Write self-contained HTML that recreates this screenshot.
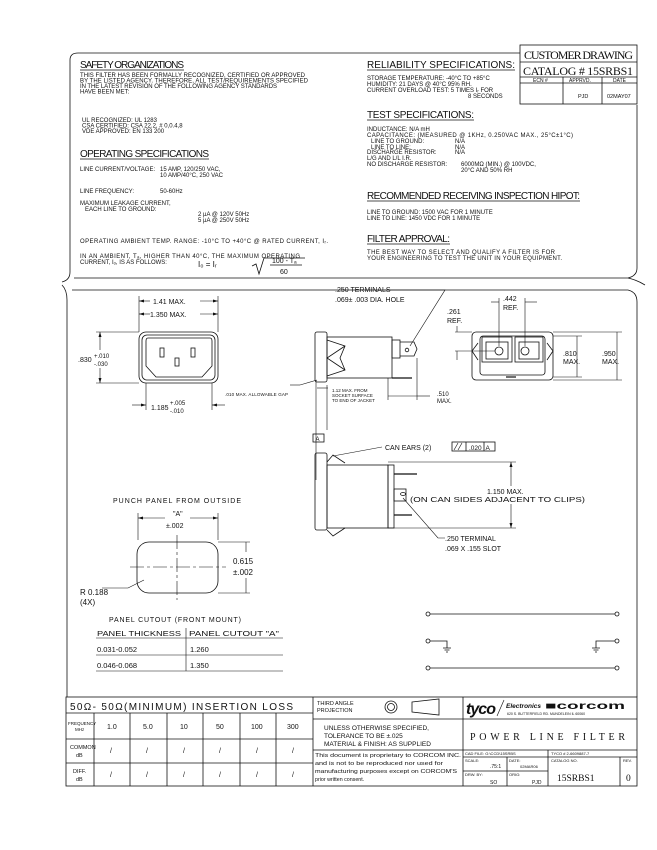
<!DOCTYPE html>
<html><head><meta charset="utf-8"><style>
html,body{margin:0;padding:0;background:#fff;}
svg{display:block;}
text{font-family:"Liberation Sans",sans-serif;fill:#111;}
.b{font-size:6px;}
.h{font-size:10px;}
.m{font-size:7px;}
</style></head><body>
<svg width="657" height="850" viewBox="0 0 657 850" xmlns="http://www.w3.org/2000/svg" stroke="#111" fill="none" stroke-width="0.8">
<path d="M70,60 Q70,53 78,53 L520,53"/>
<path d="M70,60 L70,272 Q70,280 62,282"/>
<path d="M74,278 L628,278 Q637,276 637,268 L637,105"/>
<path d="M628,278 Q637,280 645,285"/>
<rect x="520" y="45" width="117" height="59"/>
<line x1="520" y1="62" x2="637" y2="62"/>
<line x1="520" y1="77" x2="637" y2="77"/>
<line x1="520" y1="83" x2="637" y2="83"/>
<line x1="563" y1="77" x2="563" y2="104"/>
<line x1="602" y1="77" x2="602" y2="104"/>
<g stroke="none">
<text x="524" y="59" style="font-family:'Liberation Serif',serif;font-size:12px" textLength="109">CUSTOMER DRAWING</text>
<text x="523" y="75" style="font-family:'Liberation Serif',serif;font-size:12px" textLength="110">CATALOG # 15SRBS1</text>
<text x="533" y="82" style="font-size:5px">ECN #</text>
<text x="569" y="82" style="font-size:5px">APPRVD.</text>
<text x="613" y="82" style="font-size:5px">DATE</text>
<text x="578" y="98" style="font-size:5.5px">PJD</text>
<text x="607" y="98" style="font-size:5.5px">02MAY07</text>

<text x="80" y="68" class="h" textLength="104">SAFETY ORGANIZATIONS</text>
<text x="80" y="77" class="b" textLength="225">THIS FILTER HAS BEEN FORMALLY RECOGNIZED, CERTIFIED OR APPROVED</text>
<text x="80" y="82.5" class="b" textLength="228">BY THE LISTED AGENCY. THEREFORE, ALL TEST/REQUIREMENTS SPECIFIED</text>
<text x="80" y="88" class="b" textLength="197">IN THE LATEST REVISION OF THE FOLLOWING AGENCY STANDARDS</text>
<text x="80" y="93.5" class="b">HAVE BEEN MET:</text>
<text x="82" y="122" class="b">UL RECOGNIZED: UL 1283</text>
<text x="82" y="127.5" class="b">CSA CERTIFIED: CSA 22.2, # 0,0.4,8</text>
<text x="82" y="133" class="b">VDE APPROVED:  EN 133 200</text>
<text x="80" y="157" class="h" textLength="129">OPERATING SPECIFICATIONS</text>
<text x="80" y="171" class="b">LINE CURRENT/VOLTAGE:</text>
<text x="160" y="171" class="b">15 AMP, 120/250 VAC,</text>
<text x="160" y="177" class="b">10 AMP/40°C, 250 VAC</text>
<text x="80" y="193" class="b">LINE FREQUENCY:</text>
<text x="160" y="193" class="b">50-60Hz</text>
<text x="80" y="205" class="b">MAXIMUM LEAKAGE CURRENT,</text>
<text x="85" y="211" class="b">EACH LINE TO GROUND:</text>
<text x="198" y="216" class="b">2 µA @ 120V 50Hz</text>
<text x="198" y="222" class="b">5 µA @ 250V 50Hz</text>
<text x="80" y="243" class="b" textLength="248">OPERATING AMBIENT TEMP. RANGE: -10°C TO +40°C @ RATED CURRENT, Iᵣ.</text>
<text x="80" y="258" class="b" textLength="220">IN AN AMBIENT, Tₐ, HIGHER THAN 40°C, THE MAXIMUM OPERATING</text>
<text x="80" y="264" class="b">CURRENT, Iₒ, IS AS FOLLOWS:</text>
<text x="198" y="267" style="font-size:8px">I₀ = Iᵣ</text>
<text x="272" y="263" style="font-size:7px">100 - Tₐ</text>
<text x="280" y="274" style="font-size:7px">60</text>

<text x="367" y="68" class="h" textLength="148">RELIABILITY SPECIFICATIONS:</text>
<text x="367" y="80" class="b">STORAGE TEMPERATURE: -40°C TO +85°C</text>
<text x="367" y="86" class="b">HUMIDITY:  21 DAYS @ 40°C 95% RH.</text>
<text x="367" y="92" class="b">CURRENT OVERLOAD TEST: 5 TIMES Iᵣ FOR</text>
<text x="468" y="98" class="b">8 SECONDS</text>
<text x="367" y="118" class="h" textLength="107">TEST SPECIFICATIONS:</text>
<text x="367" y="131" class="b">INDUCTANCE: N/A  mH</text>
<text x="367" y="137" class="b" textLength="206">CAPACITANCE: (MEASURED @ 1KHz, 0.250VAC MAX., 25°C±1°C)</text>
<text x="371" y="143" class="b">LINE TO GROUND:</text><text x="455" y="143" class="b">N/A</text>
<text x="371" y="149" class="b">LINE TO LINE:</text><text x="455" y="149" class="b">N/A</text>
<text x="367" y="154" class="b">DISCHARGE RESISTOR:</text><text x="455" y="154" class="b">N/A</text>
<text x="367" y="160" class="b">L/G AND L/L I.R.</text>
<text x="367" y="166" class="b">NO DISCHARGE RESISTOR:</text><text x="461" y="166" class="b">6000MΩ (MIN.) @ 100VDC,</text>
<text x="461" y="172" class="b">20°C AND 50% RH</text>
<text x="367" y="199" class="h" textLength="213">RECOMMENDED RECEIVING INSPECTION HIPOT:</text>
<text x="367" y="214" class="b">LINE TO GROUND:   1500 VAC FOR 1 MINUTE</text>
<text x="367" y="220" class="b">LINE TO LINE:     1450 VDC FOR 1 MINUTE</text>
<text x="367" y="242" class="h" textLength="83">FILTER APPROVAL:</text>
<text x="367" y="254" class="b" textLength="188">THE BEST WAY TO SELECT AND QUALIFY A FILTER IS FOR</text>
<text x="367" y="260" class="b" textLength="195">YOUR ENGINEERING TO TEST THE UNIT IN YOUR EQUIPMENT.</text>
</g>
<g stroke-width="0.7">
<line x1="80" y1="70" x2="184" y2="70"/><line x1="80" y1="159" x2="209" y2="159"/>
<line x1="367" y1="70" x2="515" y2="70"/><line x1="367" y1="120" x2="474" y2="120"/>
<line x1="367" y1="201" x2="580" y2="201"/><line x1="367" y1="244" x2="450" y2="244"/>
</g>
<path d="M252,266 L256,264 L259,274 L264,258 L305,258"/>
<line x1="270" y1="265" x2="302" y2="265"/>

<path d="M62,285 Q67,290 67,300 L67,697"/>
<path d="M72,290 L628,290 Q637,292 637,302 L637,697"/>

<rect x="139" y="332" width="79" height="51" rx="7"/>
<rect x="142" y="335" width="73" height="45" rx="5"/>
<path d="M148,338 L210,338 Q212,338 212,341 L212,366 L202,377 L156,377 L146,366 L146,341 Q146,338 148,338 Z"/>
<rect x="160" y="348" width="4" height="9"/><rect x="191" y="348" width="4" height="9"/><rect x="175" y="358" width="4" height="8"/>
<g stroke-width="0.6">
<line x1="139" y1="296" x2="139" y2="332"/><line x1="218" y1="296" x2="218" y2="332"/>
<line x1="139" y1="301" x2="150" y2="301"/><line x1="200" y1="301" x2="218" y2="301"/>
<line x1="139" y1="314" x2="150" y2="314"/><line x1="200" y1="314" x2="218" y2="314"/>
<line x1="96" y1="332" x2="139" y2="332"/><line x1="96" y1="383" x2="139" y2="383"/>
<line x1="100" y1="332" x2="100" y2="350"/><line x1="100" y1="368" x2="100" y2="383"/>
<line x1="146" y1="383" x2="146" y2="410"/><line x1="212" y1="383" x2="212" y2="410"/>
<line x1="132" y1="405" x2="146" y2="405"/><line x1="212" y1="405" x2="225" y2="405"/>
<line x1="300" y1="385" x2="317" y2="380"/><line x1="290" y1="385" x2="300" y2="385"/>
</g>
<g fill="#111" stroke="none">
<path d="M139,301 l5,-1.5 v3z"/><path d="M218,301 l-5,-1.5 v3z"/>
<path d="M139,314 l5,-1.5 v3z"/><path d="M218,314 l-5,-1.5 v3z"/>
<path d="M100,332 l-1.5,5 h3z"/><path d="M100,383 l-1.5,-5 h3z"/>
<path d="M146,405 l-5,-1.5 v3z"/><path d="M212,405 l5,-1.5 v3z"/>
<text x="153" y="304" class="m">1.41 MAX.</text>
<text x="150" y="317" class="m">1.350 MAX.</text>
<text x="78" y="362" class="m">.830</text>
<text x="94" y="358" style="font-size:6px">+.010</text>
<text x="94" y="366" style="font-size:6px">-.030</text>
<text x="151" y="410" class="m">1.185</text>
<text x="170" y="405" style="font-size:6px">+.005</text>
<text x="170" y="413" style="font-size:6px">-.010</text>
<text x="225" y="396" style="font-size:4.5px" textLength="63">.010 MAX. ALLOWABLE GAP</text>
</g>

<rect x="315" y="332" width="12" height="50" rx="2"/>
<rect x="327" y="337" width="65" height="41"/>
<path d="M327,340 L345,346 L340,358 L345,370 L327,376"/>
<path d="M345,346 L327,358 L345,370"/>
<rect x="392" y="340" width="8" height="18"/>
<path d="M400,342 L414,342 L417,349 L414,356 L400,356"/>
<circle cx="407" cy="350" r="1.8"/>
<line x1="392" y1="378" x2="412" y2="378" stroke-width="1.2"/>
<g stroke-width="0.6">
<path d="M384,290 L445,290 L410,346"/>
<line x1="327" y1="385" x2="327" y2="430"/>
<line x1="317" y1="388" x2="328" y2="388"/>
<line x1="316" y1="380" x2="316" y2="480"/>
<line x1="388" y1="378" x2="388" y2="400"/><line x1="417" y1="358" x2="417" y2="400"/>
<line x1="388" y1="396" x2="417" y2="396"/><line x1="417" y1="396" x2="430" y2="396"/>
</g>
<g fill="#111" stroke="none">
<text x="335" y="292" class="m">.250 TERMINALS</text>
<text x="335" y="302" class="m">.069± .003 DIA. HOLE</text>
<text x="332" y="392" style="font-size:4.5px">1.12 MAX. FROM</text>
<text x="332" y="397" style="font-size:4.5px">SOCKET SURFACE</text>
<text x="332" y="402" style="font-size:4.5px">TO END OF JACKET</text>
<text x="437" y="396" style="font-size:6px">.510</text>
<text x="437" y="403" style="font-size:6px">MAX.</text>
<text x="447" y="314" class="m">.261</text>
<text x="447" y="323" class="m">REF.</text>
<text x="503" y="301" class="m">.442</text>
<text x="503" y="310" class="m">REF.</text>
</g>
<rect x="472" y="332" width="81" height="48" rx="4"/>
<rect x="480" y="336" width="65" height="39" rx="3"/>
<rect x="482" y="337" width="30" height="25"/><rect x="486" y="342" width="22" height="17"/>
<rect x="515" y="337" width="28" height="25"/><rect x="519" y="342" width="20" height="17"/>
<circle cx="499" cy="351" r="4"/><circle cx="525" cy="351" r="4"/>
<path d="M478,343 L472,351 L478,360"/><path d="M547,343 L553,351 L547,360"/>
<line x1="506" y1="377" x2="516" y2="377" stroke-width="1.2"/>
<g stroke-width="0.6">
<line x1="499" y1="298" x2="499" y2="346"/><line x1="525" y1="298" x2="525" y2="346"/>
<line x1="491" y1="302" x2="499" y2="302"/><line x1="525" y1="302" x2="537" y2="302"/>
<line x1="455" y1="332" x2="472" y2="332"/><line x1="455" y1="351" x2="495" y2="351"/>
<line x1="457" y1="326" x2="457" y2="332"/><line x1="457" y1="351" x2="457" y2="360"/>
<line x1="553" y1="336" x2="582" y2="336"/><line x1="553" y1="377" x2="582" y2="377"/>
<line x1="577" y1="336" x2="577" y2="377"/>
<line x1="553" y1="332" x2="622" y2="332"/><line x1="553" y1="380" x2="622" y2="380"/>
<line x1="617" y1="332" x2="617" y2="380"/>
</g>
<g fill="#111" stroke="none">
<text x="563" y="356" class="m">.810</text><text x="563" y="364" class="m">MAX.</text>
<text x="602" y="356" class="m">.950</text><text x="602" y="364" class="m">MAX.</text>
</g>
<rect x="313" y="434" width="11" height="8"/>
<g stroke="none" fill="#111"><text x="315.5" y="441" style="font-size:6px">A</text>
<text x="385" y="450" class="m">CAN EARS (2)</text>
<text x="469" y="450" style="font-size:6.5px">.020</text>
<text x="485.5" y="450" style="font-size:6.5px">A</text></g>
<rect x="452" y="442" width="43" height="9"/>
<line x1="466" y1="442" x2="466" y2="451"/><line x1="484" y1="442" x2="484" y2="451"/>
<path d="M454,450 L458,443 M458,450 L462,443" stroke-width="0.6"/>
<line x1="333" y1="456" x2="382" y2="447" stroke-width="0.6"/>

<rect x="315" y="453" width="12" height="77" rx="2"/>
<rect x="327" y="465" width="61" height="63"/>
<path d="M327,462 L333,455 L345,463"/><path d="M327,530 L333,536 L345,528"/>
<rect x="388" y="465" width="6" height="63"/>
<line x1="394" y1="474" x2="417" y2="474" stroke-width="1.2"/>
<line x1="394" y1="515" x2="412" y2="515" stroke-width="1.2"/>
<rect x="394" y="489" width="12" height="12"/>
<ellipse cx="403" cy="494" rx="2.5" ry="1.5"/>
<g stroke-width="0.6">
<line x1="388" y1="462" x2="516" y2="462"/><line x1="388" y1="528" x2="516" y2="528"/>
<line x1="511" y1="462" x2="511" y2="486"/><line x1="511" y1="504" x2="511" y2="528"/>
<path d="M403,498 L438,538 L445,538"/>
</g>
<g fill="#111" stroke="none">
<path d="M511,462 l-1.5,5 h3z"/><path d="M511,528 l-1.5,-5 h3z"/>
<text x="487" y="494" class="m">1.150 MAX.</text>
<text x="410" y="502" class="m" textLength="175" lengthAdjust="spacingAndGlyphs">(ON CAN SIDES ADJACENT TO CLIPS)</text>
<text x="445" y="541" class="m">.250 TERMINAL</text>
<text x="445" y="551" class="m">.069 X .155 SLOT</text>
</g>

<line x1="430" y1="614" x2="615" y2="614"/>
<line x1="430" y1="668" x2="615" y2="668"/>
<circle cx="428" cy="614" r="2" fill="#fff"/><circle cx="617" cy="614" r="2" fill="#fff"/>
<circle cx="428" cy="641" r="2" fill="#fff"/><circle cx="617" cy="641" r="2" fill="#fff"/>
<circle cx="428" cy="668" r="2" fill="#fff"/><circle cx="617" cy="668" r="2" fill="#fff"/>
<path d="M430,641 L447,641 L447,648 M443,648 L451,648 M444.5,650 L449.5,650 M446,652 L448,652"/>
<path d="M615,641 L596,641 L596,648 M592,648 L600,648 M593.5,650 L598.5,650 M595,652 L597,652"/>

<rect x="137" y="542" width="81" height="51" rx="12"/>
<g stroke-width="0.6">
<line x1="130" y1="567" x2="226" y2="567" stroke-dasharray="14,3,3,3"/>
<line x1="177" y1="535" x2="177" y2="600" stroke-dasharray="14,3,3,3"/>
<line x1="138" y1="513" x2="138" y2="540"/><line x1="218" y1="513" x2="218" y2="540"/>
<line x1="138" y1="518" x2="165" y2="518"/><line x1="190" y1="518" x2="218" y2="518"/>
<line x1="218" y1="542" x2="250" y2="542"/><line x1="218" y1="593" x2="250" y2="593"/>
<line x1="246" y1="542" x2="246" y2="552"/><line x1="246" y1="578" x2="246" y2="593"/>
<path d="M102,588 L128,588 L144,580"/>
<line x1="96" y1="638" x2="283" y2="638"/><line x1="96" y1="655" x2="283" y2="655"/><line x1="96" y1="671" x2="283" y2="671"/>
<line x1="186" y1="628" x2="186" y2="671"/>
</g>
<g fill="#111" stroke="none">
<path d="M138,518 l5,-1.5 v3z"/><path d="M218,518 l-5,-1.5 v3z"/>
<text x="113" y="503" class="m" textLength="128">PUNCH PANEL FROM OUTSIDE</text>
<text x="173" y="516" class="m">"A"</text>
<text x="166" y="528" class="m">±.002</text>
<text x="233" y="564" style="font-size:8px">0.615</text>
<text x="233" y="575" style="font-size:8px">±.002</text>
<text x="80" y="595" style="font-size:8px">R 0.188</text>
<text x="80" y="605" style="font-size:8px">(4X)</text>
<text x="109" y="622" class="m" textLength="132">PANEL CUTOUT (FRONT MOUNT)</text>
<text x="97" y="636" style="font-size:7.5px" textLength="84" lengthAdjust="spacingAndGlyphs">PANEL THICKNESS</text>
<text x="189" y="636" style="font-size:7.5px" textLength="90" lengthAdjust="spacingAndGlyphs">PANEL CUTOUT "A"</text>
<text x="97" y="652" style="font-size:7.5px">0.031-0.052</text>
<text x="190" y="652" style="font-size:7.5px">1.260</text>
<text x="97" y="668" style="font-size:7.5px">0.046-0.068</text>
<text x="190" y="668" style="font-size:7.5px">1.350</text>
</g>

<rect x="66" y="697" width="571" height="89"/>
<line x1="313" y1="697" x2="313" y2="786"/>
<line x1="463" y1="697" x2="463" y2="786"/>
<line x1="66" y1="713" x2="313" y2="713"/>
<line x1="66" y1="739" x2="313" y2="739"/>
<line x1="66" y1="763" x2="313" y2="763"/>
<line x1="94" y1="713" x2="94" y2="786"/>
<line x1="130" y1="713" x2="130" y2="786"/><line x1="167" y1="713" x2="167" y2="786"/>
<line x1="203" y1="713" x2="203" y2="786"/><line x1="240" y1="713" x2="240" y2="786"/>
<line x1="276" y1="713" x2="276" y2="786"/>
<line x1="313" y1="719" x2="463" y2="719"/>
<line x1="313" y1="750" x2="463" y2="750"/>
<line x1="463" y1="719" x2="637" y2="719"/>
<line x1="463" y1="750" x2="637" y2="750"/>
<line x1="463" y1="757" x2="637" y2="757"/>
<line x1="463" y1="771" x2="548" y2="771"/>
<line x1="548" y1="750" x2="548" y2="786"/>
<line x1="507" y1="757" x2="507" y2="786"/>
<line x1="620" y1="757" x2="620" y2="786"/>
<circle cx="391" cy="707" r="6"/><circle cx="391" cy="707" r="3.5"/>
<path d="M412,702 L439,699 L439,715 L412,712 Z"/>
<line x1="504" y1="700" x2="497" y2="716" stroke-width="0.6"/>
<g fill="#111" stroke="none">
<text x="70" y="710" style="font-size:10px" textLength="223">50Ω- 50Ω(MINIMUM) INSERTION LOSS</text>
<text x="68" y="725" style="font-size:4.5px">FREQUENCY</text><text x="75" y="731" style="font-size:4.5px">MHz</text>
<text x="107" y="729" class="m">1.0</text><text x="143" y="729" class="m">5.0</text>
<text x="180" y="729" class="m">10</text><text x="216" y="729" class="m">50</text>
<text x="251" y="729" class="m">100</text><text x="287" y="729" class="m">300</text>
<text x="70" y="749" style="font-size:5.5px">COMMON</text><text x="76" y="757" style="font-size:5.5px">dB</text>
<text x="73" y="773" style="font-size:5.5px">DIFF.</text><text x="76" y="781" style="font-size:5.5px">dB</text>
<g style="font-size:7px">
<text x="110" y="753">/</text><text x="146" y="753">/</text><text x="183" y="753">/</text><text x="219" y="753">/</text><text x="256" y="753">/</text><text x="292" y="753">/</text>
<text x="110" y="777">/</text><text x="146" y="777">/</text><text x="183" y="777">/</text><text x="219" y="777">/</text><text x="256" y="777">/</text><text x="292" y="777">/</text>
</g>
<text x="317" y="705" style="font-size:5.5px">THIRD ANGLE</text>
<text x="317" y="712" style="font-size:5.5px">PROJECTION</text>
<text x="324" y="730" style="font-size:6.5px">UNLESS OTHERWISE SPECIFIED,</text>
<text x="324" y="738" style="font-size:6.5px">TOLERANCE TO BE ±.025</text>
<text x="324" y="746" style="font-size:6.5px">MATERIAL &amp; FINISH: AS SUPPLIED</text>
<text x="315" y="757" style="font-size:5.3px" textLength="146" lengthAdjust="spacingAndGlyphs">This document is proprietary to CORCOM INC.</text>
<text x="315" y="765" style="font-size:5.3px" textLength="128" lengthAdjust="spacingAndGlyphs">and is not to be reproduced nor used for</text>
<text x="315" y="773" style="font-size:5.3px" textLength="142" lengthAdjust="spacingAndGlyphs">manufacturing purposes except on CORCOM'S</text>
<text x="315" y="781" style="font-size:5.3px">prior written consent.</text>
<text x="466" y="714" style="font-size:16px;font-weight:bold;font-style:italic" textLength="30">tyco</text>
<text x="506" y="708" style="font-size:6.5px;font-weight:bold;font-style:italic">Electronics</text>
<text x="545" y="709" style="font-size:10px;font-weight:bold" textLength="80" lengthAdjust="spacingAndGlyphs">■corcom</text>
<text x="507" y="715" style="font-size:3.5px">620 S. BUTTERFIELD RD. MUNDELEIN IL 60060</text>
<text x="470" y="740" style="font-family:'Liberation Serif',serif;font-size:10px" textLength="155">POWER LINE FILTER</text>
<text x="465" y="755" style="font-size:4px">CAD FILE: G:\CCD\15SRBS</text>
<text x="551" y="755" style="font-size:4px">TYCO # 2-6609887-7</text>
<text x="465" y="762" style="font-size:4px">SCALE:</text><text x="490" y="768" style="font-size:5px">.75:1</text>
<text x="509" y="762" style="font-size:4px">DATE:</text><text x="520" y="768" style="font-size:4px">02MAR06</text>
<text x="465" y="776" style="font-size:4px">DRW. BY:</text><text x="490" y="784" style="font-size:5px">SO</text>
<text x="509" y="776" style="font-size:4px">ORIG:</text><text x="532" y="784" style="font-size:5px">PJD</text>
<text x="551" y="762" style="font-size:4px">CATALOG NO.</text>
<text x="623" y="762" style="font-size:4px">REV.</text>
<text x="557" y="781" style="font-family:'Liberation Serif',serif;font-size:9.5px">15SRBS1</text>
<text x="626" y="781" style="font-family:'Liberation Serif',serif;font-size:9.5px">0</text>
</g>
</svg>
</body></html>
